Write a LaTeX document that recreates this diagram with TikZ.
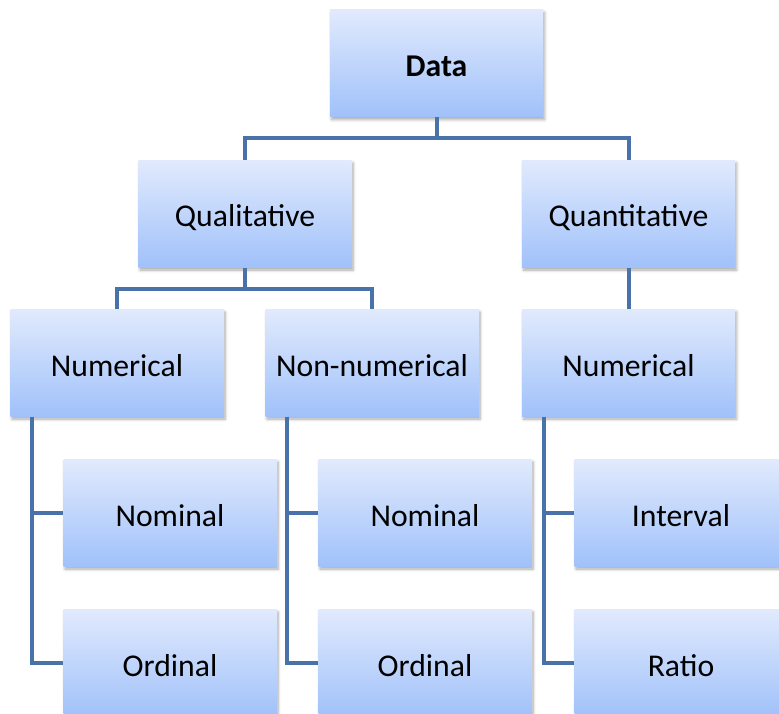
\documentclass[tikz,border=0pt]{standalone}
\usepackage{fontspec}
\setmainfont{Carlito}
\usetikzlibrary{shadows.blur}
\definecolor{boxtop}{RGB}{225,234,253}
\definecolor{boxbot}{RGB}{160,193,250}
\definecolor{linkc}{RGB}{72,114,168}
\tikzset{
  box/.style={rectangle, minimum width=213pt, minimum height=107pt, inner sep=0pt,
    top color=boxtop, bottom color=boxbot, draw=none,
    font=\fontsize{31.7}{36}\selectfont, text height=26pt, text depth=0pt,
    blur shadow={shadow xshift=1.5pt, shadow yshift=-2.5pt, shadow blur steps=6, shadow opacity=35, shadow blur radius=3pt}},
  link/.style={draw=linkc, line width=4pt}
}
\begin{document}
\begin{tikzpicture}[x=1pt,y=-1pt]
\useasboundingbox (0,0) rectangle (779,714);
\clip (0,0) rectangle (779,714);
\node[box] (data) at (436.5,63.5) {\textbf{Data}};
\node[box] (qual) at (245,214) {Qualitative};
\node[box] (quant) at (628.5,214) {Quantitative};
\node[box] (num1) at (117,363) {Numerical};
\node[box] (nonnum) at (372,363) {Non-numerical};
\node[box] (num2) at (628.5,363) {Numerical};
\node[box] (nom1) at (170,513) {Nominal};
\node[box] (ord1) at (170,663) {Ordinal};
\node[box] (nom2) at (425,513) {Nominal};
\node[box] (ord2) at (425,663) {Ordinal};
\node[box] (intv) at (681,513) {Interval};
\node[box] (ratio) at (681,663) {Ratio};
\coordinate (j1) at (436.5,138);
\coordinate (j2) at (245,289);
\draw[link] (data.south) -- (j1) -| (qual.north);
\draw[link] (j1) -| (quant.north);
\draw[link] (qual.south) -- (j2) -| (num1.north);
\draw[link] (j2) -| (nonnum.north);
\draw[link] (quant.south) -- (num2.north);
\draw[link] ([xshift=22pt]num1.south west) |- (nom1.west);
\draw[link] ([xshift=22pt]num1.south west) |- (ord1.west);
\draw[link] ([xshift=22pt]nonnum.south west) |- (nom2.west);
\draw[link] ([xshift=22pt]nonnum.south west) |- (ord2.west);
\draw[link] ([xshift=22pt]num2.south west) |- (intv.west);
\draw[link] ([xshift=22pt]num2.south west) |- (ratio.west);
\end{tikzpicture}
\end{document}
